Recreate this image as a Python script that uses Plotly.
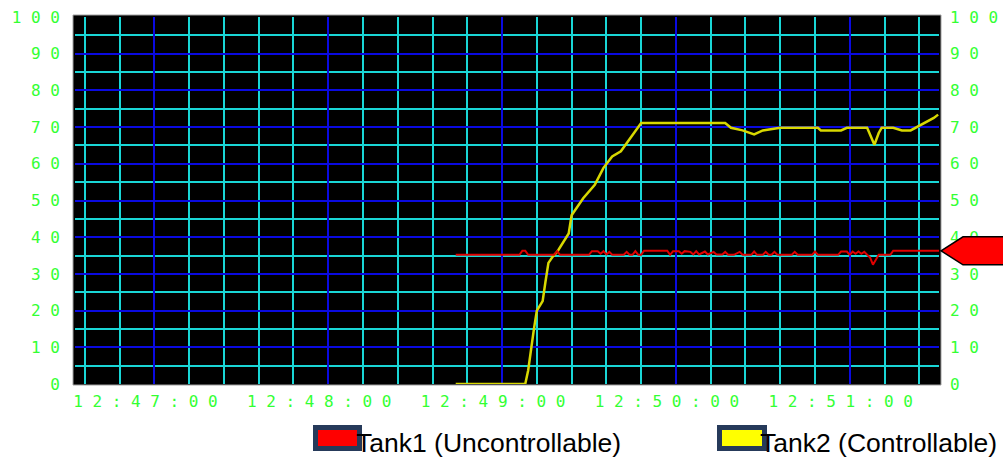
import plotly.graph_objects as go

DAY = "2000-01-01 "

# Tank1 (Uncontrollable) - red
tank1_times = ["12:48:44", "12:49:06", "12:49:07", "12:49:08", "12:49:09", "12:49:18", "12:49:19", "12:49:20",
               "12:49:30", "12:49:31", "12:49:33", "12:49:34", "12:49:35", "12:49:36", "12:49:37", "12:49:38",
               "12:49:42", "12:49:43", "12:49:44", "12:49:45", "12:49:46", "12:49:47", "12:49:48", "12:49:49",
               "12:49:57", "12:49:58", "12:49:59", "12:50:01", "12:50:02", "12:50:03", "12:50:05", "12:50:06",
               "12:50:07", "12:50:08", "12:50:10", "12:50:11", "12:50:13", "12:50:14", "12:50:16", "12:50:17",
               "12:50:18", "12:50:20", "12:50:22", "12:50:23", "12:50:26", "12:50:27", "12:50:28", "12:50:30",
               "12:50:31", "12:50:32", "12:50:33", "12:50:34", "12:50:35", "12:50:40", "12:50:41", "12:50:42",
               "12:50:47", "12:50:48", "12:50:49", "12:50:56", "12:50:57", "12:50:59", "12:51:00", "12:51:01",
               "12:51:02", "12:51:03", "12:51:04", "12:51:05", "12:51:06", "12:51:07", "12:51:08", "12:51:09",
               "12:51:10", "12:51:14", "12:51:15", "12:51:31"]
tank1_values = [35.2, 35.2, 36.3, 36.3, 35.2, 35.2, 36.2, 35.2,
                35.2, 36.2, 36.2, 35.5, 36.2, 35.3, 36.0, 35.2,
                35.2, 36.0, 35.2, 35.2, 36.2, 35.2, 35.2, 36.3,
                36.3, 35.2, 36.2, 36.2, 35.5, 36.2, 36.0, 35.3,
                36.2, 35.3, 36.1, 35.3, 36.0, 35.3, 35.3, 36.0,
                35.2, 35.2, 36.0, 35.2, 35.2, 36.1, 35.2, 35.2,
                36.0, 35.2, 35.2, 36.0, 35.2, 35.2, 36.0, 35.2,
                35.2, 36.1, 35.2, 35.2, 36.1, 36.1, 35.2, 36.1,
                35.5, 36.1, 35.5, 36.0, 35.2, 34.5, 32.5, 34.0,
                35.2, 35.2, 36.3, 36.3]

# Tank2 (Controllable) - yellow
tank2_times = ["12:48:44", "12:49:08", "12:49:09", "12:49:10", "12:49:11", "12:49:12", "12:49:14", "12:49:15",
               "12:49:16", "12:49:17.5", "12:49:19", "12:49:23", "12:49:24", "12:49:28", "12:49:32", "12:49:35",
               "12:49:38", "12:49:41", "12:49:44", "12:49:48", "12:50:17", "12:50:19", "12:50:23", "12:50:27",
               "12:50:30", "12:50:33", "12:50:36", "12:50:49", "12:50:50", "12:50:57", "12:50:59", "12:51:06",
               "12:51:07", "12:51:08.5", "12:51:10", "12:51:11", "12:51:15", "12:51:18", "12:51:21", "12:51:24",
               "12:51:27", "12:51:29", "12:51:30.5"]
tank2_values = [0, 0, 3.7, 9.7, 15, 20, 22.6, 28,
                33, 34.7, 36, 41, 46, 50.6, 54.3, 58.9,
                62, 63.4, 66.6, 71.1, 71.1, 69.8, 69.1, 68,
                69.1, 69.5, 69.8, 69.8, 69.1, 69.1, 69.8, 69.8,
                68, 65.2, 68.4, 69.8, 69.8, 69.1, 69.1, 70.4,
                71.6, 72.5, 73.4]

x_tick_times = ["12:47:00", "12:48:00", "12:49:00", "12:50:00", "12:51:00"]
y_ticks = [0, 10, 20, 30, 40, 50, 60, 70, 80, 90, 100]
x_range = ["12:46:32.6", "12:51:30.8"]

series_names = ["Tank1 (Uncontrollable)", "Tank2 (Controllable)"]

GREEN = "#33ff33"
CYAN = "#19d6d6"
BLUE = "#0a0ae0"
RED = "#e00000"
YELLOW = "#d8d800"
TICKFONT = dict(family="DejaVu Sans Mono", size=16, color=GREEN)


def spaced(s):
    return " ".join(list(s))


fig = go.Figure()
fig.add_trace(go.Scatter(x=[DAY + t for t in tank2_times], y=tank2_values, mode="lines",
                         line=dict(color=YELLOW, width=2.5), name=series_names[1], showlegend=False))
fig.add_trace(go.Scatter(x=[DAY + t for t in tank1_times], y=tank1_values, mode="lines",
                         line=dict(color=RED, width=2), name=series_names[0], showlegend=False,
                         yaxis="y2"))

W, H = 1003, 459
L, R, T, B = 75, 64, 17, 75
pw, ph = W - L - R, H - T - B


def px_x(p):
    return (p - L) / pw


def px_y(p):
    return (H - B - p) / ph


shapes = []
# chart frame (black, gray border)
shapes.append(dict(type="rect", xref="paper", yref="paper", x0=px_x(73), x1=px_x(941), y0=px_y(385),
                   y1=px_y(15), fillcolor="black", line=dict(color="#a0a0a0", width=1), layer="below"))

# current value indicator of Tank1 on the right
last = tank1_values[-1]
half = 14 / (ph / 100)
path = (f"M {px_x(941)} {last} L {px_x(963)} {last + half} L {px_x(1006)} {last + half} "
        f"L {px_x(1006)} {last - half} L {px_x(963)} {last - half} Z")
shapes.append(dict(type="path", xref="paper", yref="y", path=path, fillcolor="#ff0000",
                   line=dict(color="black", width=1.5), layer="above"))

# legend boxes
for (x0, x1, col) in [(315.5, 359.5, "#ff0000"), (719.5, 764.5, "#ffff00")]:
    shapes.append(dict(type="rect", xref="paper", yref="paper", x0=px_x(x0), x1=px_x(x1),
                       y0=px_y(448.5), y1=px_y(427.5), fillcolor=col,
                       line=dict(color="#263a5a", width=5), layer="above"))

annotations = []
for name, xs in [(series_names[0], 354), (series_names[1], 758)]:
    annotations.append(dict(text=name, xref="paper", yref="paper", x=px_x(xs), y=px_y(443),
                            xanchor="left", yanchor="middle", showarrow=False,
                            font=dict(family="Liberation Sans", size=26.5, color="black")))

fig.update_layout(
    width=W, height=H,
    margin=dict(l=L, r=R, t=T, b=B, pad=0, autoexpand=False),
    paper_bgcolor="white", plot_bgcolor="black",
    showlegend=False,
    shapes=shapes, annotations=annotations,
    xaxis=dict(
        type="date", range=[DAY + x_range[0], DAY + x_range[1]], automargin=False,
        tickmode="array", tickvals=[DAY + t for t in x_tick_times],
        ticktext=[spaced(t) for t in x_tick_times],
        showgrid=True, gridcolor=BLUE, gridwidth=2, zeroline=False, showline=False,
        ticks="", tickfont=TICKFONT, ticklabelshift=-9, ticklabelstandoff=6,
        minor=dict(dtick=12000, tick0=DAY + x_tick_times[0], showgrid=True, gridcolor=CYAN, gridwidth=2,
                   ticks=""),
    ),
    yaxis=dict(
        range=[0, 100], automargin=False, tickmode="array", tickvals=y_ticks,
        ticktext=[spaced(str(v)) for v in y_ticks],
        showgrid=True, gridcolor=BLUE, gridwidth=2, zeroline=False, showline=False,
        ticks="", tickfont=TICKFONT, ticklabelstandoff=14,
        minor=dict(dtick=5, tick0=0, showgrid=True, gridcolor=CYAN, gridwidth=2, ticks=""),
    ),
    yaxis2=dict(
        range=[0, 100], automargin=False, overlaying="y", side="right", tickmode="array", tickvals=y_ticks,
        ticktext=[spaced(str(v)) for v in y_ticks], showgrid=False, zeroline=False, showline=False,
        ticks="", tickfont=TICKFONT, ticklabelstandoff=10,
    ),
)

fig.write_html("out.html", config={"displayModeBar": False},
               post_script="document.body.style.margin='0';")
